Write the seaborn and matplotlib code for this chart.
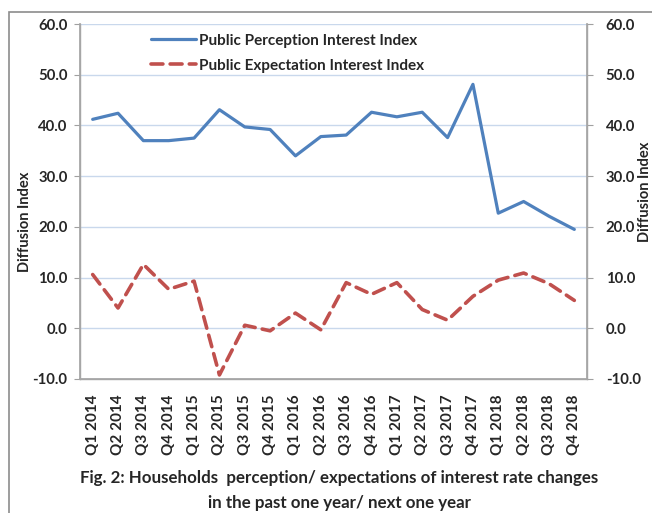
import numpy as np
import pandas as pd
import matplotlib
matplotlib.use('Agg')
import matplotlib.pyplot as plt
from matplotlib.patches import Rectangle
import seaborn as sns

quarters = ['Q1 2014', 'Q2 2014', 'Q3 2014', 'Q4 2014',
            'Q1 2015', 'Q2 2015', 'Q3 2015', 'Q4 2015',
            'Q1 2016', 'Q2 2016', 'Q3 2016', 'Q4 2016',
            'Q1 2017', 'Q2 2017', 'Q3 2017', 'Q4 2017',
            'Q1 2018', 'Q2 2018', 'Q3 2018', 'Q4 2018']
perception = [41.2, 42.4, 37.0, 37.0, 37.5, 43.1, 39.7, 39.2, 34.0, 37.8,
              38.1, 42.6, 41.7, 42.6, 37.6, 48.1, 22.7, 25.0, 22.1, 19.5]
expectation = [10.6, 4.0, 12.6, 7.7, 9.3, -9.2, 0.6, -0.5, 3.0, -0.3,
               9.0, 6.7, 9.0, 3.7, 1.6, 6.3, 9.5, 10.9, 8.8, 5.5]
yticks = [-10, 0, 10, 20, 30, 40, 50, 60]

sns.set_theme(style='white')
plt.rcParams['font.family'] = ['Lato', 'DejaVu Sans']

fig = plt.figure(figsize=(6.52, 5.13), dpi=100)
ax = fig.add_axes([80 / 652, 1 - 379 / 513, 507 / 652, 355 / 513])

df = pd.DataFrame({'Quarter': quarters, 'Perception': perception, 'Expectation': expectation})
sns.lineplot(data=df, x='Quarter', y='Perception', ax=ax, color='#4f81bd', lw=2.3,
             label='Public Perception Interest Index', sort=False)
sns.lineplot(data=df, x='Quarter', y='Expectation', ax=ax, color='#c0504d', lw=2.6,
             label='Public Expectation Interest Index', sort=False)
ax.lines[1].set_dashes([3.3, 2.0])
ax.lines[1].set_dash_capstyle('round')
ax.lines[0].set_solid_capstyle('round')

ax.set_xlim(-0.5, len(quarters) - 0.5)
ax.set_ylim(-10, 60)
ax.set_yticks(yticks)
ax.set_yticklabels([f'{v:.1f}' for v in yticks], fontsize=10.7, fontweight='bold')
ax.set_xticks(range(len(quarters)))
ax.set_xticklabels(quarters, rotation=90, fontsize=11, fontweight='bold')
ax.set_xticks(np.arange(-0.5, len(quarters), 1), minor=True)
ax.tick_params(axis='x', which='major', length=0, pad=11)
ax.tick_params(axis='x', which='minor', direction='inout', length=8, width=0.8, color='#a0a0a0')
ax.tick_params(axis='y', direction='out', length=4, width=0.8, color='#a0a0a0', pad=5, left=True)
ax.yaxis.grid(True, color='#c9d8ec', lw=1)
ax.set_axisbelow(True)
ax.set_xlabel('')
ax.set_ylabel('Diffusion Index', fontsize=10.5, fontweight='bold')
ax.yaxis.set_label_coords(-0.095, 0.442)
for s in ['left', 'right', 'bottom']:
    ax.spines[s].set_color('#a6a6a6')
    ax.spines[s].set_linewidth(1)
ax.spines['top'].set_visible(False)

ax2 = ax.twinx()
ax2.set_ylim(-10, 60)
ax2.set_yticks(yticks)
ax2.set_yticklabels([f'{v:.1f}' for v in yticks], fontsize=10.7, fontweight='bold')
ax2.tick_params(axis='y', direction='out', length=4, width=0.8, color='#a0a0a0', pad=9.5, right=True)
ax2.set_ylabel('Diffusion Index', fontsize=10.5, fontweight='bold', rotation=90)
ax2.yaxis.set_label_position('right')
ax2.yaxis.set_label_coords(1.1, 0.527)
ax2.grid(False)
for s in ['left', 'right', 'bottom']:
    ax2.spines[s].set_color('#a6a6a6')
ax2.spines['top'].set_visible(False)

leg = ax.legend(loc='upper left', bbox_to_anchor=(0.112, 1.011), frameon=False,
                handlelength=3.0, handletextpad=0.15, labelspacing=0.72,
                prop={'weight': 'bold', 'size': 11})

fig.text(0.52, 1 - 478 / 513, 'Fig. 2: Households  perception/ expectations of interest rate changes',
         ha='center', va='center', fontsize=12.2, fontweight='bold')
fig.text(0.52, 1 - 503 / 513, 'in the past one year/ next one year',
         ha='center', va='center', fontsize=12.2, fontweight='bold')

fig.patches.append(Rectangle((9 / 652, -0.05), 1.2, 1 - 12 / 513 + 0.05, transform=fig.transFigure,
                             fill=False, edgecolor='#8c8c8c', lw=1.2, zorder=0))

fig.savefig('out.png', dpi=100)
